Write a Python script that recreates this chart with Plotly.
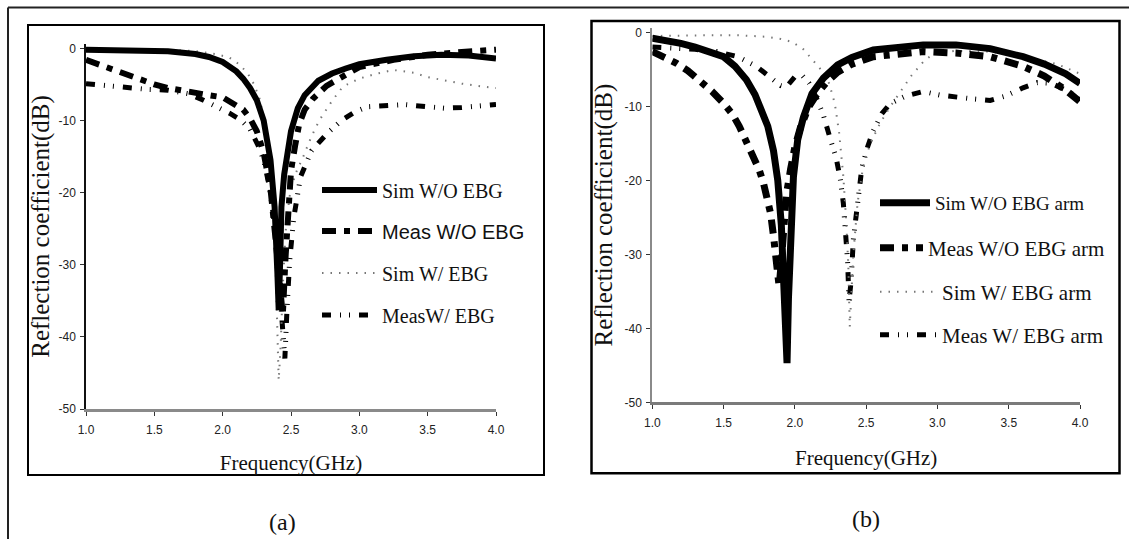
import plotly.graph_objects as go

W, H = 1129, 539

# ---------------- data ----------------
x_ticks = [1.0, 1.5, 2.0, 2.5, 3.0, 3.5, 4.0]
x_ticktext = ["1.0", "1.5", "2.0", "2.5", "3.0", "3.5", "4.0"]
y_ticks = [0, -10, -20, -30, -40, -50]
y_ticktext = ["0", "-10", "-20", "-30", "-40", "-50"]

# panel (a)
a_sim_wo_f = [1.0, 1.2, 1.4, 1.6, 1.8, 1.9, 2.0, 2.1, 2.15, 2.2, 2.25, 2.3, 2.35, 2.38, 2.4, 2.41, 2.42, 2.43, 2.45,
              2.47, 2.5, 2.55, 2.6, 2.7, 2.8, 2.9, 3.0, 3.2, 3.4, 3.6, 3.8, 4.0]
a_sim_wo_db = [-0.2, -0.2, -0.3, -0.4, -0.8, -1.2, -1.9, -3.2, -4.2, -5.5, -7.2, -10.0, -15.5, -22.0, -31.0, -36.3,
               -30.0, -22.0, -17.5, -14.6, -11.5, -8.3, -6.5, -4.5, -3.5, -2.8, -2.2, -1.6, -1.1, -0.9, -1.0, -1.4]

a_meas_wo_f = [1.0, 1.1, 1.2, 1.3, 1.4, 1.5, 1.6, 1.7, 1.8, 1.9, 2.0, 2.1, 2.15, 2.2, 2.25, 2.3, 2.35, 2.39, 2.42,
               2.44, 2.46, 2.48, 2.5, 2.53, 2.56, 2.6, 2.66, 2.76, 2.9, 3.0, 3.25, 3.5, 3.75, 4.0]
a_meas_wo_db = [-1.6, -2.3, -3.0, -3.8, -4.3, -5.0, -5.5, -5.9, -6.2, -6.5, -6.8, -7.8, -8.5, -9.7, -11.5, -14.5,
                -19.5, -27.0, -33.5, -37.0, -29.0, -22.0, -17.0, -13.5, -10.5, -8.5, -7.0, -5.2, -3.6, -2.6, -1.6,
                -0.9, -0.5, -0.2]

a_sim_w_f = [1.0, 1.3, 1.6, 1.8, 1.95, 2.05, 2.12, 2.18, 2.23, 2.27, 2.3, 2.33, 2.36, 2.38, 2.395, 2.41, 2.425, 2.44,
             2.46, 2.49, 2.53, 2.59, 2.65, 2.71, 2.8, 2.88, 3.0, 3.13, 3.25, 3.4, 3.5, 3.6, 3.75, 3.9, 4.0]
a_sim_w_db = [-0.1, -0.1, -0.2, -0.4, -0.8, -1.3, -2.2, -3.4, -5.0, -7.0, -9.5, -13.0, -18.5, -25.0, -34.0, -46.0,
              -41.0, -33.0, -25.5, -20.5, -17.5, -15.0, -12.2, -9.9, -7.3, -5.3, -4.2, -3.5, -3.0, -3.4, -4.0, -4.4,
              -4.9, -5.3, -5.5]

a_meas_w_f = [1.0, 1.15, 1.3, 1.45, 1.6, 1.75, 1.86, 1.95, 2.05, 2.13, 2.2, 2.26, 2.3, 2.34, 2.37, 2.4, 2.43, 2.455,
              2.47, 2.49, 2.52, 2.57, 2.65, 2.77, 2.87, 2.97, 3.06, 3.2, 3.33, 3.5, 3.62, 3.75, 3.9, 4.0]
a_meas_w_db = [-4.9, -5.2, -5.5, -5.7, -5.8, -6.3, -7.2, -8.0, -9.0, -9.9, -11.2, -13.5, -15.5, -19.0, -23.0, -29.0,
               -36.5, -43.0, -36.5, -29.5, -23.5, -17.8, -14.2, -11.7, -10.0, -8.8, -8.1, -7.9, -7.8, -8.1, -8.3,
               -8.2, -8.0, -7.8]

# panel (b)
b_sim_wo_f = [1.0, 1.1, 1.2, 1.3, 1.4, 1.5, 1.58, 1.66, 1.72, 1.77, 1.81, 1.85, 1.88, 1.905, 1.92, 1.935, 1.945,
              1.955, 1.97, 1.99, 2.02, 2.06, 2.12, 2.2, 2.3, 2.4, 2.55, 2.7, 2.9, 3.13, 3.37, 3.6, 3.75, 3.9, 4.0]
b_sim_wo_db = [-0.8, -1.1, -1.5, -2.0, -2.6, -3.3, -4.6, -6.4, -8.4, -10.5, -12.7, -16.0, -20.0, -26.0, -32.0, -40.0,
               -44.7, -36.0, -26.0, -19.5, -14.5, -11.5, -8.3, -6.2, -4.4, -3.4, -2.4, -2.0, -1.7, -1.7, -2.2, -3.3,
               -4.3, -5.6, -6.9]

b_meas_wo_f = [1.0, 1.08, 1.17, 1.25, 1.33, 1.42, 1.5, 1.56, 1.61, 1.66, 1.71, 1.75, 1.78, 1.81, 1.83, 1.85, 1.86,
               1.875, 1.89, 1.905, 1.92, 1.94, 1.97, 2.0, 2.04, 2.1, 2.16, 2.22, 2.3, 2.4, 2.55, 2.7, 2.9, 3.13,
               3.37, 3.6, 3.75, 3.9, 4.0]
b_meas_wo_db = [-2.6, -3.3, -4.2, -5.2, -6.4, -8.0, -9.6, -11.0, -12.7, -14.7, -16.8, -18.6, -20.4, -22.5, -24.5,
                -27.5, -30.0, -33.0, -34.4, -31.0, -26.0, -22.0, -18.5, -15.5, -12.8, -10.0, -8.2, -6.8, -5.4, -4.3,
                -3.3, -2.9, -2.6, -2.8, -3.3, -4.6, -5.9, -7.8, -9.4]

b_sim_w_f = [1.0, 1.2, 1.4, 1.6, 1.8, 1.9, 1.98, 2.06, 2.13, 2.19, 2.24, 2.28, 2.31, 2.34, 2.36, 2.375, 2.385, 2.395,
             2.41, 2.44, 2.48, 2.53, 2.6, 2.67, 2.74, 2.82, 2.9, 2.97, 3.13, 3.37, 3.6, 3.84, 4.0]
b_sim_w_db = [-0.5, -0.4, -0.4, -0.4, -0.6, -0.9, -1.3, -2.3, -3.8, -5.2, -6.9, -9.6, -13.5, -19.5, -25.5, -31.5,
              -39.8, -36.5, -30.0, -23.0, -18.0, -15.0, -12.2, -10.0, -8.0, -5.8, -4.0, -2.9, -2.5, -2.6, -3.3,
              -4.3, -5.6]

b_meas_w_f = [1.0, 1.15, 1.3, 1.45, 1.6, 1.73, 1.82, 1.9, 1.94, 2.0, 2.05, 2.1, 2.15, 2.2, 2.25, 2.29, 2.32, 2.34,
              2.355, 2.37, 2.38, 2.395, 2.41, 2.44, 2.47, 2.51, 2.55, 2.61, 2.67, 2.78, 2.9, 3.02, 3.13, 3.25, 3.37,
              3.48, 3.6, 3.7, 3.8, 3.9, 4.0]
b_meas_w_db = [-2.0, -2.1, -2.3, -2.6, -3.3, -4.6, -6.0, -7.2, -7.4, -6.0, -5.8, -6.9, -8.8, -11.2, -14.5, -17.0,
               -20.0, -23.1, -27.0, -31.0, -36.4, -33.5, -28.0, -22.5, -18.3, -15.5, -13.3, -11.0, -9.6, -8.6, -8.0,
               -8.5, -8.8, -9.0, -9.2, -8.6, -7.5, -6.8, -6.9, -7.8, -9.0]

a_names = ["Sim W/O EBG", "Meas W/O EBG", "Sim W/ EBG", "MeasW/ EBG"]
b_names = ["Sim W/O EBG arm", "Meas W/O EBG arm", "Sim W/ EBG arm", "Meas W/ EBG arm"]

# ---------------- styling ----------------
SERIF = "Liberation Serif, Times New Roman, serif"
SANS = "Liberation Sans, Arial, sans-serif"
TICKF = "Liberation Sans Narrow, Liberation Sans, Arial, sans-serif"


def px(x):
    return x / W


def py(y):
    return 1 - y / H


line_styles_a = [
    dict(color="#000000", width=6, dash="solid"),
    dict(color="#000000", width=6, dash="14px,8px,6px,8px"),
    dict(color="#777777", width=2, dash="1.5px,7px"),
    dict(color="#000000", width=5, dash="9px,9px,1px,8px,1px,9px"),
]
line_styles_b = [
    dict(color="#000000", width=7, dash="solid"),
    dict(color="#000000", width=7, dash="14px,8px,6px,8px"),
    dict(color="#777777", width=2, dash="1.5px,7px"),
    dict(color="#000000", width=5, dash="9px,9px,1px,8px,1px,9px"),
]
legend_fonts_a = [SERIF, SANS, SERIF, SERIF]
legend_sizes_a = [20, 20, 20, 20]
legend_fonts_b = [SERIF, SERIF, SERIF, SERIF]
legend_sizes_b = [19, 21, 21, 21]
legend_rows_a = [190, 231, 273, 315]
legend_rows_b = [203, 248, 292, 335]
legend_iw_a = [55, 55, 55, 55]
legend_iw_b = [50, 43, 57, 57]
legend_x_a = 317
legend_x_b = 875

fig = go.Figure()

a_series = [(a_sim_wo_f, a_sim_wo_db), (a_meas_wo_f, a_meas_wo_db), (a_sim_w_f, a_sim_w_db), (a_meas_w_f, a_meas_w_db)]
b_series = [(b_sim_wo_f, b_sim_wo_db), (b_meas_wo_f, b_meas_wo_db), (b_sim_w_f, b_sim_w_db), (b_meas_w_f, b_meas_w_db)]

legend_layouts = {}
draw_order = [3, 2, 1, 0]  # thin/dotted first, solid on top
for k in draw_order:
    f, d = a_series[k]
    lid = "legend" if k == 0 else f"legend{k + 1}"
    fig.add_trace(go.Scatter(x=f, y=d, mode="lines", name=a_names[k], line=line_styles_a[k],
                             xaxis="x", yaxis="y", legend=lid, showlegend=True))
for k in draw_order:
    f, d = b_series[k]
    lid = f"legend{k + 5}"
    fig.add_trace(go.Scatter(x=f, y=d, mode="lines", name=b_names[k], line=line_styles_b[k],
                             xaxis="x2", yaxis="y2", legend=lid, showlegend=True))

for k in range(4):
    lid = "legend" if k == 0 else f"legend{k + 1}"
    legend_layouts[lid] = dict(
        x=px(legend_x_a), y=py(legend_rows_a[k]), xref="paper", yref="paper",
        xanchor="left", yanchor="middle", bgcolor="rgba(0,0,0,0)", borderwidth=0,
        itemwidth=legend_iw_a[k],
        font=dict(family=legend_fonts_a[k], size=legend_sizes_a[k], color="#111111"))
    lid2 = f"legend{k + 5}"
    legend_layouts[lid2] = dict(
        x=px(legend_x_b), y=py(legend_rows_b[k]), xref="paper", yref="paper",
        xanchor="left", yanchor="middle", bgcolor="rgba(0,0,0,0)", borderwidth=0,
        itemwidth=legend_iw_b[k],
        font=dict(family=legend_fonts_b[k], size=legend_sizes_b[k], color="#111111"))

tickfont = dict(family=TICKF, size=12, color="#222222")

axis_common = dict(showgrid=False, zeroline=False, ticks="outside", ticklen=4, tickwidth=1.3,
                   tickcolor="#333333", tickfont=tickfont, fixedrange=True)

fig.update_layout(
    width=W, height=H,
    margin=dict(l=0, r=0, t=0, b=0, autoexpand=False),
    paper_bgcolor="white", plot_bgcolor="white",
    xaxis=dict(domain=[px(86), px(496)], range=[1, 4], anchor="y", tickvals=x_ticks, ticktext=x_ticktext,
               showline=True, linecolor="#8a8a8a", linewidth=3, ticklabelstandoff=4,
               title=dict(text="Frequency(GHz)", font=dict(family=SERIF, size=21, color="#111111"), standoff=19),
               **axis_common),
    yaxis=dict(domain=[py(409), py(48.3 - 0.6 * 7.214)], range=[-50, 0.6], anchor="x", tickvals=y_ticks,
               ticktext=y_ticktext, showline=True, linecolor="#111111", linewidth=1.5, ticklabelstandoff=2,
               title=dict(text="Reflection coefficient(dB)", font=dict(family=SERIF, size=25, color="#111111"),
                          standoff=2),
               **axis_common),
    xaxis2=dict(domain=[px(652.3), px(1080)], range=[1, 4], anchor="y2", tickvals=x_ticks, ticktext=x_ticktext,
                showline=True, linecolor="#7a7a7a", linewidth=2.5, ticklabelstandoff=4,
                title=dict(text="Frequency(GHz)", font=dict(family=SERIF, size=21, color="#111111"), standoff=21),
                **axis_common),
    yaxis2=dict(domain=[py(402.3), py(32.3 - 0.6 * 7.4)], range=[-50, 0.6], anchor="x2", tickvals=y_ticks,
                ticktext=y_ticktext, showline=True, linecolor="#8a8a8a", linewidth=2, ticklabelstandoff=2,
                title=dict(text="Reflection coefficient(dB)", font=dict(family=SERIF, size=25, color="#111111"),
                           standoff=5),
                **axis_common),
    shapes=[
        # outer frame (top and left)
        dict(type="line", xref="paper", yref="paper", x0=px(8), x1=1, y0=py(7.5), y1=py(7.5),
             line=dict(color="#222222", width=2)),
        dict(type="line", xref="paper", yref="paper", x0=px(8), x1=px(8), y0=py(7.5), y1=0,
             line=dict(color="#222222", width=2)),
        # panel boxes
        dict(type="rect", xref="paper", yref="paper", x0=px(28), x1=px(544), y0=py(475), y1=py(25),
             line=dict(color="#000000", width=2)),
        dict(type="rect", xref="paper", yref="paper", x0=px(591.5), x1=px(1119.5), y0=py(473.3), y1=py(21),
             line=dict(color="#000000", width=2.5)),
    ],
    annotations=[
        dict(text="(a)", x=px(282), y=py(522), xref="paper", yref="paper", showarrow=False,
             xanchor="center", yanchor="middle", font=dict(family=SERIF, size=24, color="#111111")),
        dict(text="(b)", x=px(866), y=py(519), xref="paper", yref="paper", showarrow=False,
             xanchor="center", yanchor="middle", font=dict(family=SERIF, size=24, color="#111111")),
    ],
    **legend_layouts,
)

fig.write_html("out.html")
